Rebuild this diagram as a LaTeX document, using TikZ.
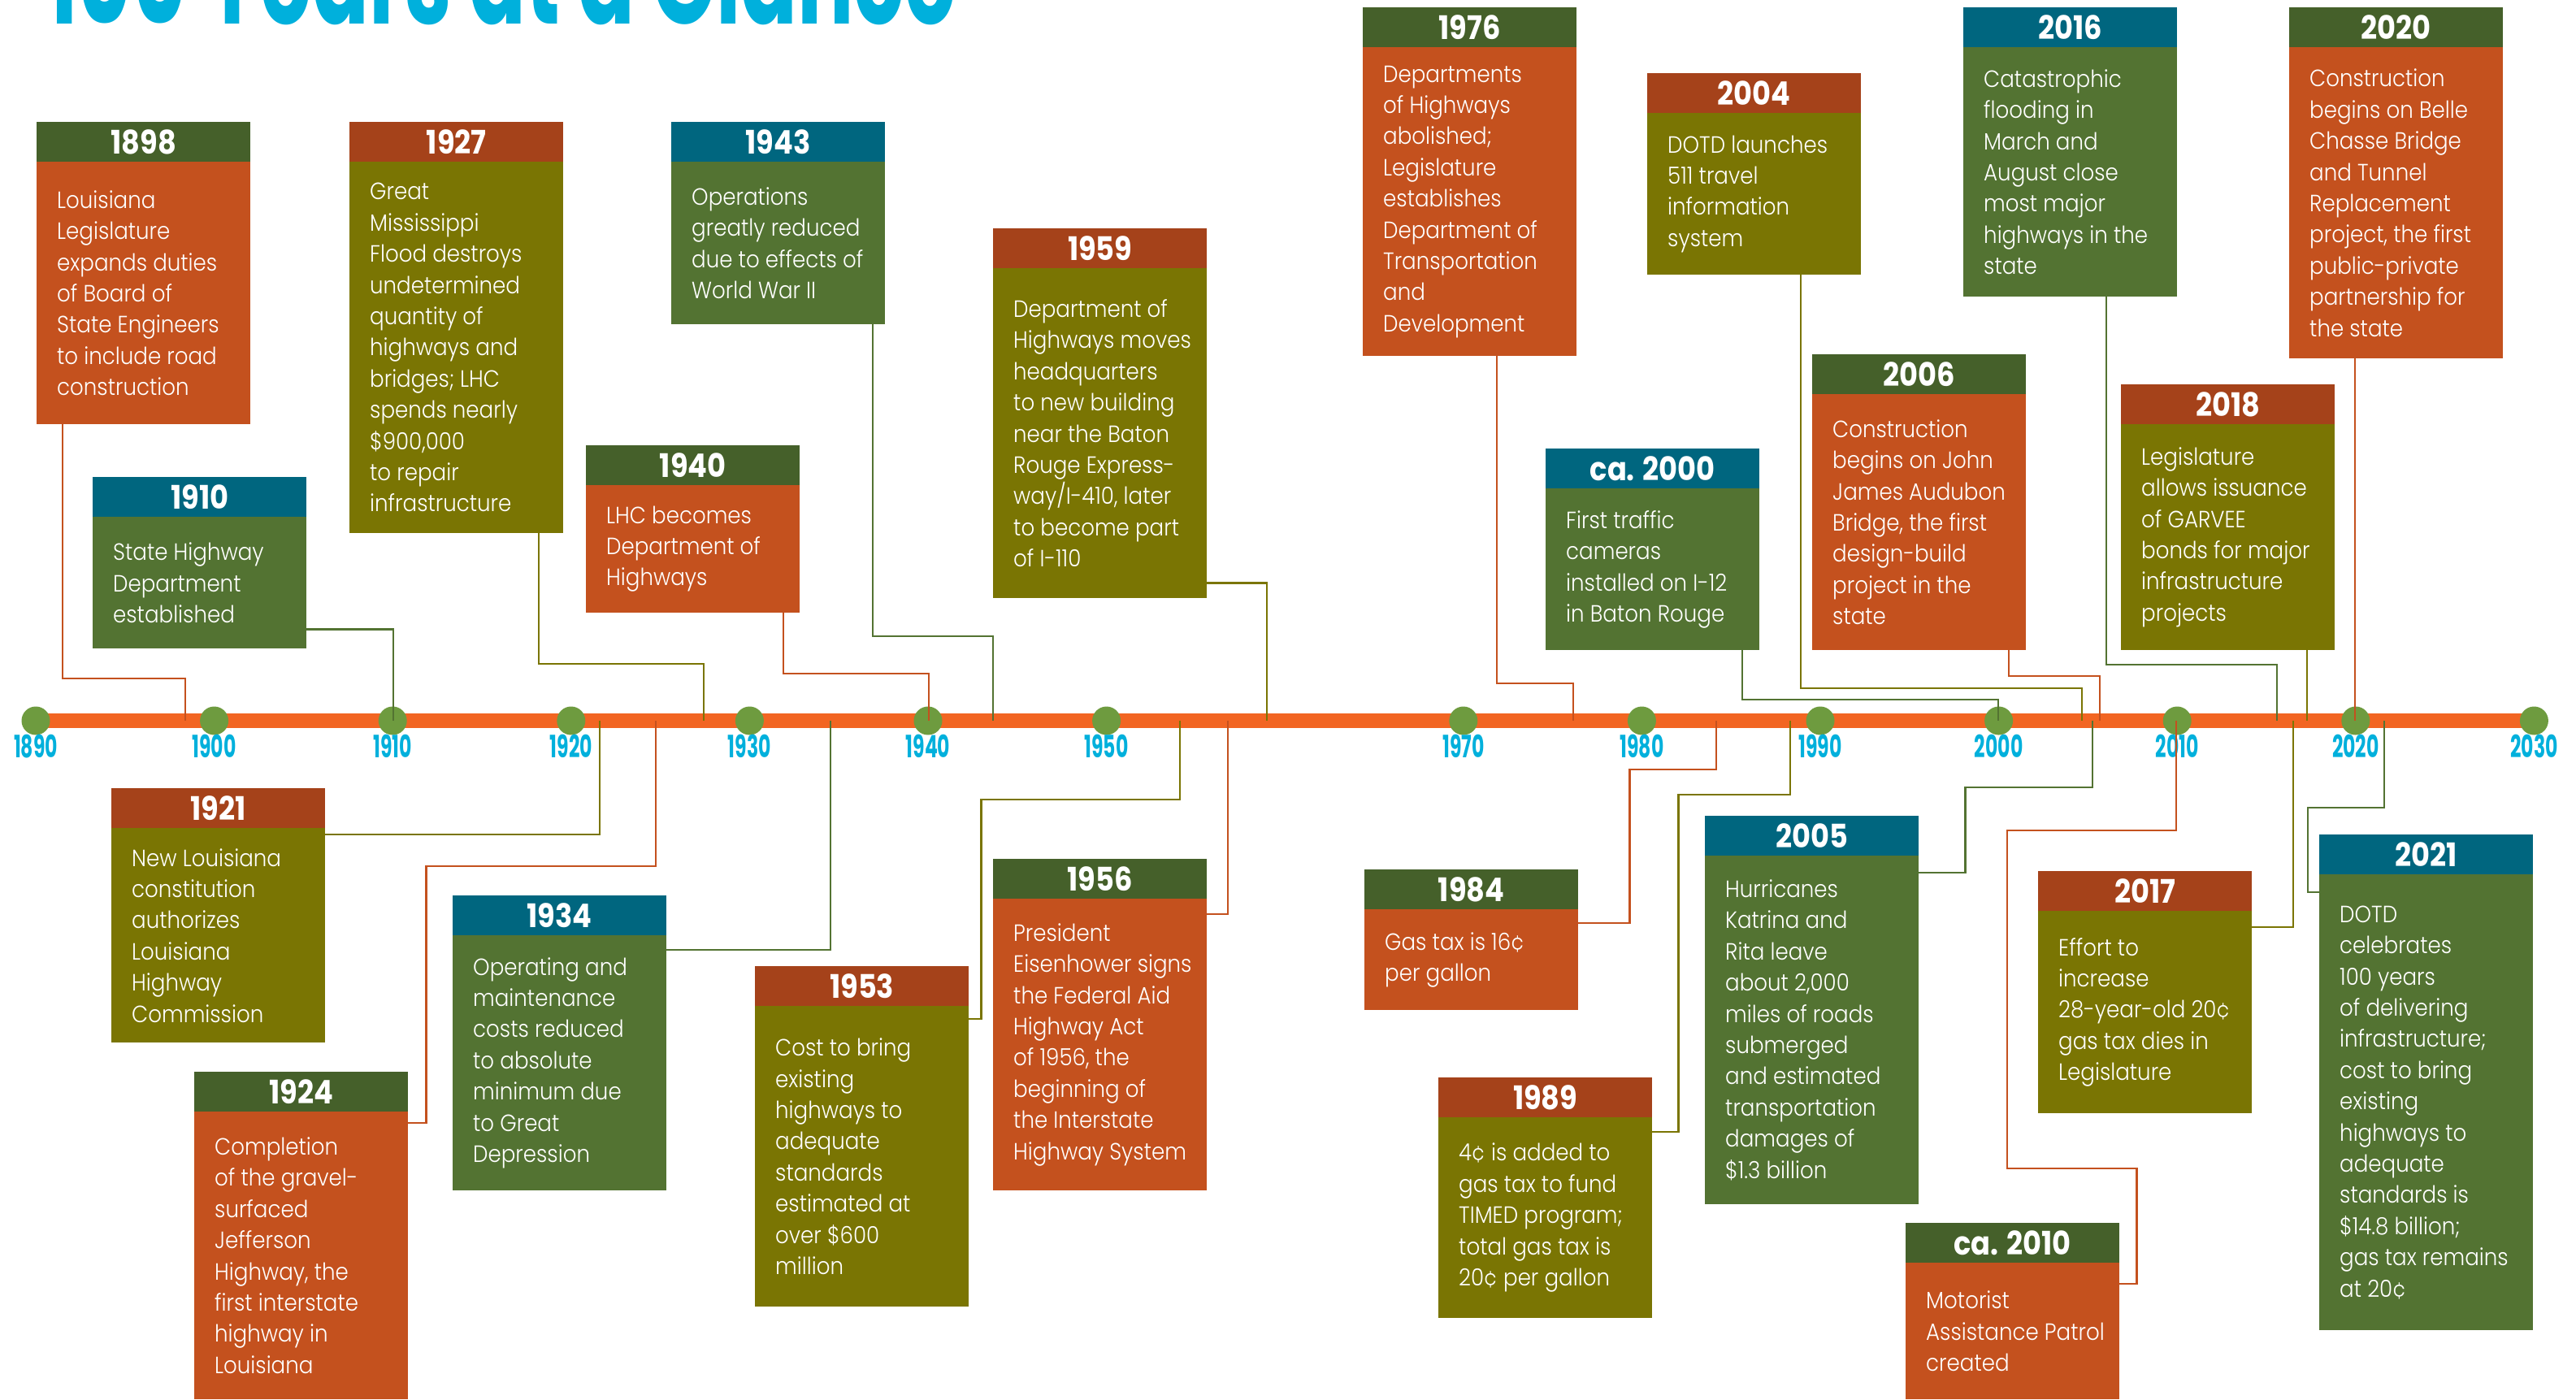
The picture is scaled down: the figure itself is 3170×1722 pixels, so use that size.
\documentclass[tikz,border=0pt]{standalone}
\usepackage{fontspec}
\setmainfont{Poppins}
\newfontfamily\bodyfont{Poppins}[UprightFont=* Light, FakeStretch=0.9]
\newfontfamily\hdfont{Poppins}[FakeStretch=0.88]
\newfontfamily\condfont{Poppins}[FakeStretch=0.62]
\definecolor{hgreen}{HTML}{45602A}
\definecolor{hrust}{HTML}{A5421A}
\definecolor{hteal}{HTML}{00667F}
\definecolor{borange}{HTML}{C4511E}
\definecolor{bolive}{HTML}{7A7503}
\definecolor{bgreen}{HTML}{537332}
\definecolor{axisor}{HTML}{F26522}
\definecolor{dotgreen}{HTML}{6E9B3F}
\definecolor{cyanlab}{HTML}{00B0DC}
\tikzset{
  hdr/.style={anchor=north west, minimum width=263, minimum height=49, inner sep=0,
    text=white, font=\hdfont\bfseries\fontsize{40}{40}\selectfont},
  bdy/.style={anchor=north west, minimum width=263, inner sep=0},
  btxt/.style={anchor=west, align=left, inner sep=0, text=white,
    font=\bodyfont\fontsize{29}{38.4}\selectfont},
  con/.style={line width=2.5},
  dot/.style={circle, fill=dotgreen, minimum size=35, inner sep=0},
  ylab/.style={anchor=base, inner sep=0, text=cyanlab,
    font=\condfont\bfseries\fontsize{38}{38}\selectfont},
  ttl/.style={anchor=base west, inner sep=0, text=cyanlab,
    font=\condfont\bfseries\fontsize{166}{166}\selectfont},
}
% #1 name, #2 x, #3 top, #4 bottom, #5 header colour, #6 body colour, #7 year, #8 text
\newcommand\evbox[8]{%
  \node[hdr, fill=#5] (#1h) at (#2,#3) {#7};
  \node[bdy, fill=#6, minimum height={#4-#3-49}] (#1) at (#2,#3+49) {};
  \node[btxt] (#1t) at ([xshift=25]#1.west) {#8};
}
\begin{document}
\begin{tikzpicture}[x=1pt, y=-1pt]
\useasboundingbox (0,0) rectangle (3170,1722);
\fill[white] (0,0) rectangle (3170,1722);

\node[ttl] (title) at (57,29) {100 Years at a Glance};

% axis
\coordinate (a0) at (44,887);
\coordinate (a1) at (3118,887);
\draw[line width=18, draw=axisor] (a0) -- (a1);
\foreach \yr in {1890,1900,1910,1920,1930,1940,1950,1970,1980,1990,2000,2010,2020,2030}{
  \node[dot] (d\yr) at ({44+(\yr-1890)*21.96},887) {};
  \node[ylab] (l\yr) at ({44+(\yr-1890)*21.96},932) {\yr};
}

% end points on the axis
\coordinate (e1898) at (228,887);
\coordinate (e1927) at (866,887);
\coordinate (e1910) at (484,887);
\coordinate (e1943) at (1222,887);
\coordinate (e1940) at (1143,887);
\coordinate (e1959) at (1559,887);
\coordinate (e1976) at (1936,887);
\coordinate (e2004) at (2562,887);
\coordinate (e2000) at (2459,887);
\coordinate (e2006) at (2584,887);
\coordinate (e2016) at (2802,887);
\coordinate (e2020) at (2898,887);
\coordinate (e2018) at (2839,887);
\coordinate (e1921) at (738,887);
\coordinate (e1924) at (807,887);
\coordinate (e1934) at (1022,887);
\coordinate (e1953) at (1452,887);
\coordinate (e1956) at (1511,887);
\coordinate (e1984) at (2112,887);
\coordinate (e1989) at (2203,887);
\coordinate (e2005) at (2575,887);
\coordinate (e2010) at (2678,887);
\coordinate (e2017) at (2822,887);
\coordinate (e2021) at (2934,887);

% boxes above
\evbox{b1898}{45}{150}{522}{hgreen}{borange}{1898}{Louisiana\\Legislature\\expands duties\\of Board of\\State Engineers\\to include road\\construction}
\evbox{b1927}{430}{150}{656}{hrust}{bolive}{1927}{Great\\Mississippi\\Flood destroys\\undetermined\\quantity of\\highways and\\bridges; LHC\\spends nearly\\\$900,000\\to repair\\infrastructure}
\evbox{b1910}{114}{587}{798}{hteal}{bgreen}{1910}{State Highway\\Department\\established}
\evbox{b1943}{826}{150}{399}{hteal}{bgreen}{1943}{Operations\\greatly reduced\\due to effects of\\World War II}
\evbox{b1940}{721}{548}{754}{hgreen}{borange}{1940}{LHC becomes\\Department of\\Highways}
\evbox{b1959}{1222}{281}{736}{hrust}{bolive}{1959}{Department of\\Highways moves\\headquarters\\to new building\\near the Baton\\Rouge Express-\\way/I-410, later\\to become part\\of I-110}
\evbox{b1976}{1677}{9}{438}{hgreen}{borange}{1976}{Departments\\of Highways\\abolished;\\Legislature\\establishes\\Department of\\Transportation\\and\\Development}
\evbox{b2004}{2027}{90}{338}{hrust}{bolive}{2004}{DOTD launches\\511 travel\\information\\system}
\evbox{b2000}{1902}{552}{800}{hteal}{bgreen}{ca. 2000}{First traffic\\cameras\\installed on I-12\\in Baton Rouge}
\evbox{b2006}{2230}{436}{800}{hgreen}{borange}{2006}{Construction\\begins on John\\James Audubon\\Bridge, the first\\design-build\\project in the\\state}
\evbox{b2016}{2416}{9}{365}{hteal}{bgreen}{2016}{Catastrophic\\flooding in\\March and\\August close\\most major\\highways in the\\state}
\evbox{b2020}{2817}{9}{441}{hgreen}{borange}{2020}{Construction\\begins on Belle\\Chasse Bridge\\and Tunnel\\Replacement\\project, the first\\public-private\\partnership for\\the state}
\evbox{b2018}{2610}{473}{800}{hrust}{bolive}{2018}{Legislature\\allows issuance\\of GARVEE\\bonds for major\\infrastructure\\projects}

% boxes below
\evbox{b1921}{137}{970}{1283}{hrust}{bolive}{1921}{New Louisiana\\constitution\\authorizes\\Louisiana\\Highway\\Commission}
\evbox{b1924}{239}{1319}{1722}{hgreen}{borange}{1924}{Completion\\of the gravel-\\surfaced\\Jefferson\\Highway, the\\first interstate\\highway in\\Louisiana}
\evbox{b1934}{557}{1102}{1465}{hteal}{bgreen}{1934}{Operating and\\maintenance\\costs reduced\\to absolute\\minimum due\\to Great\\Depression}
\evbox{b1953}{929}{1189}{1608}{hrust}{bolive}{1953}{Cost to bring\\existing\\highways to\\adequate\\standards\\estimated at\\over \$600\\million}
\evbox{b1956}{1222}{1057}{1465}{hgreen}{borange}{1956}{President\\Eisenhower signs\\the Federal Aid\\Highway Act\\of 1956, the\\beginning of\\the Interstate\\Highway System}
\evbox{b1984}{1679}{1070}{1243}{hgreen}{borange}{1984}{Gas tax is 16¢\\per gallon}
\evbox{b1989}{1770}{1326}{1622}{hrust}{bolive}{1989}{4¢ is added to\\gas tax to fund\\TIMED program;\\total gas tax is\\20¢ per gallon}
\evbox{b2005}{2098}{1004}{1482}{hteal}{bgreen}{2005}{Hurricanes\\Katrina and\\Rita leave\\about 2,000\\miles of roads\\submerged\\and estimated\\transportation\\damages of\\\$1.3 billion}
\evbox{b2010}{2345}{1505}{1722}{hgreen}{borange}{ca. 2010}{Motorist\\Assistance Patrol\\created}
\evbox{b2017}{2508}{1072}{1370}{hrust}{bolive}{2017}{Effort to\\increase\\28-year-old 20¢\\gas tax dies in\\Legislature}
\evbox{b2021}{2854}{1027}{1637}{hteal}{bgreen}{2021}{DOTD\\celebrates\\100 years\\of delivering\\infrastructure;\\cost to bring\\existing\\highways to\\adequate\\standards is\\\$14.8 billion;\\gas tax remains\\at 20¢}

% connectors (drawn over the axis)
\begin{scope}[con]
\draw[borange] ([xshift=32]b1898.south west) |- (228,835) -- (e1898);
\draw[bolive] ([xshift=233]b1927.south west) |- (866,817) -- (e1927);
\draw[bgreen] ([yshift=24]b1910.south east) -| (e1910);
\draw[bgreen] ([xshift=248]b1943.south west) |- (1222,783) -- (e1943);
\draw[borange] ([xshift=243]b1940.south west) |- (1143,829) -- (e1940);
\draw[bolive] ([yshift=19]b1959.south east) -| (e1959);
\draw[borange] ([xshift=165]b1976.south west) |- (1936,841) -- (e1976);
\draw[bolive] ([xshift=189]b2004.south west) |- (2562,847) -- (e2004);
\draw[bgreen] ([xshift=242]b2000.south west) |- (2459,861) -- (e2000);
\draw[borange] ([xshift=242]b2006.south west) |- (2584,832) -- (e2006);
\draw[bgreen] ([xshift=176]b2016.south west) |- (2802,818) -- (e2016);
\draw[borange] ([xshift=81]b2020.south west) -- (e2020);
\draw[bolive] ([xshift=229]b2018.south west) -- (e2018);
\draw[bolive] ([yshift=-8]b1921.north east) -| (e1921);
\draw[borange] ([yshift=-14]b1924.north east) -- ++(22,0) |- (807,1066) -- (e1924);
\draw[bgreen] ([yshift=-18]b1934.north east) -| (e1934);
\draw[bolive] ([yshift=-16]b1953.north east) -- ++(15,0) |- (1452,984) -- (e1953);
\draw[borange] ([yshift=-19]b1956.north east) -| (e1956);
\draw[borange] ([yshift=-17]b1984.north east) -- ++(63,0) |- (2112,947) -- (e1984);
\draw[bolive] ([yshift=-18]b1989.north east) -- ++(32,0) |- (2203,978) -- (e1989);
\draw[bgreen] ([yshift=-21]b2005.north east) -- ++(57,0) |- (2575,969) -- (e2005);
\draw[borange] ([yshift=-26]b2010.north east) -- ++(21,0) |- (2470,1438) |- (2678,1022) -- (e2010);
\draw[bolive] ([yshift=-20]b2017.north east) -| (e2017);
\draw[bgreen] ([yshift=-22]b2021.north west) -- ++(-14,0) |- (2934,994) -- (e2021);
\end{scope}
\end{tikzpicture}
\end{document}
